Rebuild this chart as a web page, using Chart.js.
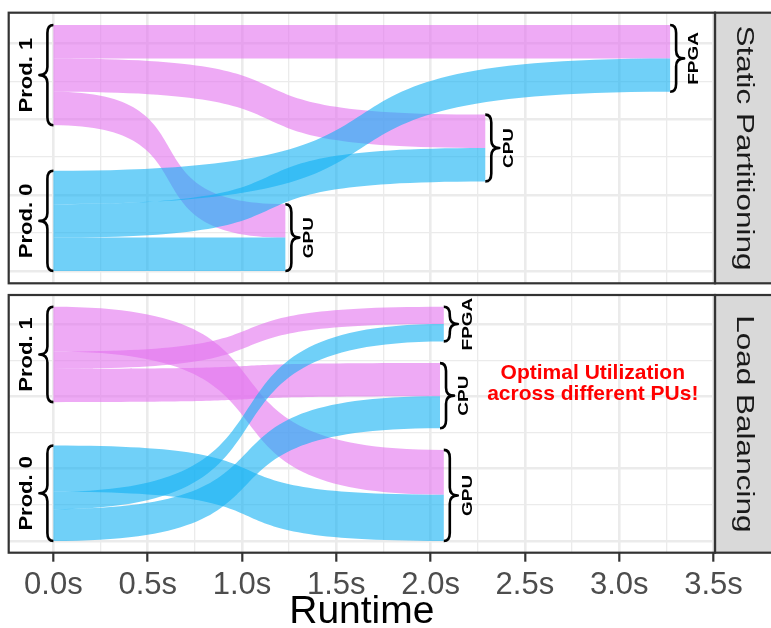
<!DOCTYPE html>
<html>
<head>
<meta charset="utf-8">
<script src="https://cdn.jsdelivr.net/npm/chart.js@4.4.1/dist/chart.umd.min.js"></script>
<style>
html, body { margin: 0; padding: 0; background: #ffffff; }
#wrap { position: relative; width: 771px; height: 628px; overflow: hidden; }
canvas { position: absolute; left: 0; display: block; }
#c1 { top: 0; }
#c2 { top: 290px; }
</style>
</head>
<body>
<div id="wrap">
  <canvas id="c1" width="771" height="290"></canvas>
  <canvas id="c2" width="771" height="338"></canvas>
</div>
<script>
// ---------------- data ----------------
const producers = ['Prod. 1', 'Prod. 0'];
const processingUnits = ['FPGA', 'CPU', 'GPU'];
const panelTitles = ['Static Partitioning', 'Load Balancing'];

// work items sent from each producer to [FPGA, CPU, GPU]
const staticProd1 = [22, 22, 22];
const staticProd0 = [22, 22, 22];
const staticRuntime = [3.27, 2.29, 1.23];      // seconds per PU [FPGA, CPU, GPU]
const staticLeftOrder = ['FPGA', 'CPU', 'GPU']; // flow order inside producer strata

const lbProd1 = [12, 23, 31];
const lbProd0 = [12, 22, 32];
const lbRuntime = [2.07, 2.05, 2.07];
const lbLeftOrder = ['GPU', 'FPGA', 'CPU'];

const xTickValues = [0, 0.5, 1, 1.5, 2, 2.5, 3, 3.5];
const xTickLabels = ['0.0s', '0.5s', '1.0s', '1.5s', '2.0s', '2.5s', '3.0s', '3.5s'];
const xMinorValues = [0.25, 0.75, 1.25, 1.75, 2.25, 2.75, 3.25];
const yGridMajor = [0, 50, 100, 150];
const yGridMinor = [25, 75, 125];

const annotationLines = ['Optimal Utilization', 'across different PUs!'];
const annotationPos = { x: 2.86, y: 105 };
const axisTitle = 'Runtime';

// ---------------- styling / layout ----------------
const prodColors = ['rgba(227,113,238,0.6)', 'rgba(17,177,243,0.6)'];
const GAP = 30;          // total vertical spacing between strata (in item units)
const CURVE = 0.72;      // bezier control factor for flows
const X_MIN = -0.237, X_MAX = 3.508;
const FONT = "'Liberation Sans', Arial, Helvetica, sans-serif";
Chart.defaults.font.family = FONT;

function buildPanel(values, runtime, leftOrder) {
  const nP = producers.length, nU = processingUnits.length;
  let total = 0;
  values.forEach(a => a.forEach(v => { total += v; }));
  const top = total + GAP;
  const flowMap = {};
  const leftStrata = [];
  let cur = top;
  producers.forEach((p, pi) => {
    const start = cur;
    leftOrder.forEach(uName => {
      const ui = processingUnits.indexOf(uName);
      const v = values[pi][ui];
      flowMap['f' + pi + '_' + ui] = { pi, ui, lTop: cur, lBot: cur - v };
      cur -= v;
    });
    leftStrata.push({ label: p, top: start, bot: cur, x: 0 });
    cur -= GAP / (nP - 1);
  });
  const rightStrata = [];
  cur = top;
  processingUnits.forEach((u, ui) => {
    const start = cur;
    producers.forEach((p, pi) => {
      const f = flowMap['f' + pi + '_' + ui];
      const v = values[pi][ui];
      f.rTop = cur; f.rBot = cur - v; f.x1 = runtime[ui];
      cur -= v;
    });
    rightStrata.push({ label: u, top: start, bot: cur, x: runtime[ui] });
    cur -= GAP / (nU - 1);
  });
  return { flows: Object.values(flowMap), leftStrata, rightStrata, top };
}

function brace(ctx, x, yTop, yBot, dir) {
  const w = 14, s = 6;
  const ym = (yTop + yBot) / 2;
  const r = Math.min(8, (yBot - yTop) / 4);
  const xs = x + dir * s, xt = x + dir * w;
  ctx.beginPath();
  ctx.moveTo(x, yTop);
  ctx.quadraticCurveTo(xs, yTop, xs, yTop + r);
  ctx.lineTo(xs, ym - r);
  ctx.quadraticCurveTo(xs, ym, xt, ym);
  ctx.quadraticCurveTo(xs, ym, xs, ym + r);
  ctx.lineTo(xs, yBot - r);
  ctx.quadraticCurveTo(xs, yBot, x, yBot);
  ctx.stroke();
  return xt;
}

function rotText(ctx, text, x, y, font, rot, sAcross, color) {
  ctx.save();
  ctx.translate(x, y);
  ctx.rotate(rot);
  ctx.scale(1, sAcross);
  ctx.font = font;
  ctx.fillStyle = color;
  ctx.textAlign = 'center';
  ctx.textBaseline = 'middle';
  ctx.fillText(text, 0, 0);
  ctx.restore();
}

function makePlugin(panel, title, annotate) {
  return {
    id: 'alluvial',
    beforeDatasetsDraw(chart) {
      const { ctx, chartArea: ca } = chart;
      ctx.save();
      ctx.beginPath();
      ctx.rect(ca.left, ca.top, ca.right - ca.left, ca.bottom - ca.top);
      ctx.clip();
      chart.data.datasets.forEach((ds, i) => {
        const pts = chart.getDatasetMeta(i).data;
        if (pts.length !== 4) return;
        const [a, b, c, d] = pts;
        const k = CURVE * (b.x - a.x);
        ctx.beginPath();
        ctx.moveTo(a.x, a.y);
        ctx.bezierCurveTo(a.x + k, a.y, b.x - k, b.y, b.x, b.y);
        ctx.lineTo(c.x, c.y);
        ctx.bezierCurveTo(c.x - k, c.y, d.x + k, d.y, d.x, d.y);
        ctx.closePath();
        ctx.fillStyle = ds.backgroundColor;
        ctx.fill();
      });
      ctx.restore();
    },
    afterDatasetsDraw(chart) {
      const { ctx } = chart;
      const xs = chart.scales.x, ys = chart.scales.y;
      ctx.save();
      ctx.strokeStyle = '#000000';
      ctx.lineWidth = 2.6;
      ctx.lineJoin = 'round';
      panel.leftStrata.forEach(s => {
        const x = xs.getPixelForValue(s.x);
        const y0 = ys.getPixelForValue(s.top), y1 = ys.getPixelForValue(s.bot);
        const tip = brace(ctx, x, y0, y1, -1);
        rotText(ctx, s.label, tip - 13, (y0 + y1) / 2, 'bold 22px ' + FONT, -Math.PI / 2, 0.87, '#000000');
      });
      panel.rightStrata.forEach(s => {
        const x = xs.getPixelForValue(s.x);
        const y0 = ys.getPixelForValue(s.top), y1 = ys.getPixelForValue(s.bot);
        const tip = brace(ctx, x, y0, y1, 1);
        rotText(ctx, s.label, tip + 10, (y0 + y1) / 2, 'bold 19px ' + FONT, -Math.PI / 2, 0.78, '#000000');
      });
      if (annotate) {
        const ax = xs.getPixelForValue(annotationPos.x);
        const ay = ys.getPixelForValue(annotationPos.y);
        ctx.font = 'bold 21px ' + FONT;
        ctx.fillStyle = '#FF0000';
        ctx.textAlign = 'center';
        ctx.textBaseline = 'alphabetic';
        ctx.fillText(annotationLines[0], ax, ay - 10.5);
        ctx.fillText(annotationLines[1], ax, ay + 10.5);
      }
      ctx.restore();
    },
    afterDraw(chart) {
      const { ctx, chartArea: ca } = chart;
      ctx.save();
      // strip
      ctx.fillStyle = '#D9D9D9';
      ctx.fillRect(ca.right, ca.top, 80, ca.bottom - ca.top);
      ctx.strokeStyle = '#333333';
      ctx.lineWidth = 2.2;
      ctx.strokeRect(ca.right, ca.top, 80, ca.bottom - ca.top);
      rotText(ctx, title, ca.right + 28.5, (ca.top + ca.bottom) / 2, '31.5px ' + FONT, Math.PI / 2, 0.78, '#1A1A1A');
      // panel border
      ctx.strokeRect(ca.left, ca.top, ca.right - ca.left, ca.bottom - ca.top);
      ctx.restore();
    }
  };
}

function makeChart(canvasId, panel, title, isBottom) {
  const xTicksAll = [...xTickValues, ...xMinorValues].sort((a, b) => a - b);
  const yTicksAll = [...yGridMajor, ...yGridMinor].sort((a, b) => a - b);
  const expand = 0.05 * panel.top;
  const datasets = panel.flows.map(f => ({
    label: producers[f.pi] + ' \u2192 ' + processingUnits[f.ui],
    data: [
      { x: 0, y: f.lTop }, { x: f.x1, y: f.rTop },
      { x: f.x1, y: f.rBot }, { x: 0, y: f.lBot }
    ],
    backgroundColor: prodColors[f.pi],
    borderColor: prodColors[f.pi],
    pointRadius: 0,
    pointHoverRadius: 0,
    showLine: false
  }));
  return new Chart(document.getElementById(canvasId), {
    type: 'scatter',
    data: { datasets },
    options: {
      responsive: false,
      animation: false,
      events: [],
      layout: {
        padding: isBottom
          ? { top: 5, left: 8.7, right: 56, bottom: 0 }
          : { top: 12.7, left: 8.7, right: 56, bottom: 6.7 }
      },
      plugins: { legend: { display: false }, tooltip: { enabled: false } },
      scales: {
        x: {
          type: 'linear',
          min: X_MIN, max: X_MAX,
          afterBuildTicks: s => { s.ticks = xTicksAll.map(v => ({ value: v })); },
          afterFit: s => { s.height = isBottom ? 75.3 : 0; },
          border: { display: false },
          grid: {
            color: '#EBEBEB',
            lineWidth: c => (c.tick && xTickValues.includes(c.tick.value)) ? 2.6 : 1.3,
            drawTicks: isBottom,
            tickLength: 9,
            tickWidth: 2.2,
            tickColor: c => (c.tick && xTickValues.includes(c.tick.value)) ? '#333333' : 'rgba(0,0,0,0)'
          },
          ticks: {
            display: isBottom,
            autoSkip: false,
            maxRotation: 0,
            padding: 5,
            color: '#4D4D4D',
            font: { size: 31 },
            callback: v => { const i = xTickValues.indexOf(v); return i >= 0 ? xTickLabels[i] : ''; }
          },
          title: {
            display: isBottom,
            text: axisTitle,
            color: '#000000',
            font: { size: 39, lineHeight: 0.8 },
            padding: 0
          }
        },
        y: {
          type: 'linear',
          min: -expand, max: panel.top + expand,
          afterBuildTicks: s => { s.ticks = yTicksAll.map(v => ({ value: v })); },
          afterFit: s => { s.width = 0; },
          border: { display: false },
          grid: {
            color: '#EBEBEB',
            lineWidth: c => (c.tick && yGridMajor.includes(c.tick.value)) ? 2.6 : 1.3,
            drawTicks: false
          },
          ticks: { display: false }
        }
      }
    },
    plugins: [makePlugin(panel, title, isBottom)]
  });
}

const staticPanel = buildPanel([staticProd1, staticProd0], staticRuntime, staticLeftOrder);
const lbPanel = buildPanel([lbProd1, lbProd0], lbRuntime, lbLeftOrder);
makeChart('c1', staticPanel, panelTitles[0], false);
makeChart('c2', lbPanel, panelTitles[1], true);
</script>
</body>
</html>
